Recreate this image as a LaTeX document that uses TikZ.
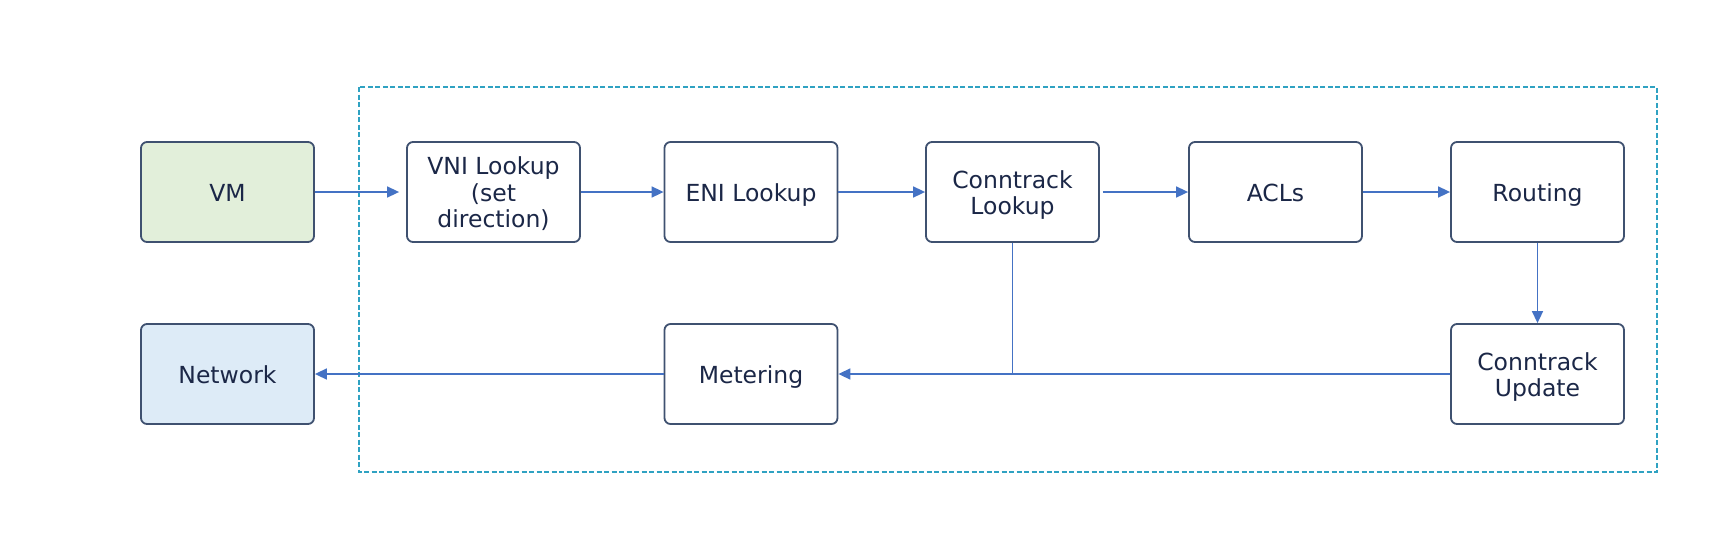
\documentclass[tikz,border=0pt]{standalone}
\usepackage{fontspec}
\setmainfont{DejaVu Sans}
\usetikzlibrary{arrows.meta}
\definecolor{boxline}{HTML}{3F5170}
\definecolor{txt}{HTML}{1B2747}
\definecolor{arr}{HTML}{4472C4}
\definecolor{dashcol}{HTML}{2FA2C2}
\definecolor{vmfill}{HTML}{E2EFDA}
\definecolor{netfill}{HTML}{DDEBF7}
\tikzset{
  stepbox/.style={draw=boxline, line width=1.8pt, rounded corners=6pt, fill=white,
    minimum width=173pt, minimum height=100pt, inner sep=0pt},
  boxtext/.style={yshift=-4.5pt, inner sep=0pt, align=center, text=txt,
    font=\fontsize{23.5pt}{26.5pt}\selectfont,
    execute at begin node=\strut, execute at end node=\strut},
  conn/.style={draw=arr, line width=1.6pt},
  arrow/.style={conn, -{Triangle[length=12pt,width=11pt]}},
  groupbox/.style={draw=dashcol, line width=1.5pt, dash pattern=on 5pt off 2.5pt},
}
\begin{document}
\begin{tikzpicture}[x=1pt,y=-1pt]
\useasboundingbox (0,0) rectangle (1719,555);
\draw[groupbox] (359,87) rectangle (1657,472);
\node[stepbox, fill=vmfill, label={[boxtext]center:VM}] (vm) at (227.5,192) {};
\node[stepbox, label={[boxtext]center:{VNI Lookup\\(set\\direction)}}] (vni) at (493.5,192) {};
\node[stepbox, label={[boxtext]center:ENI Lookup}] (eni) at (751,192) {};
\node[stepbox, label={[boxtext]center:{Conntrack\\Lookup}}] (cl) at (1012.5,192) {};
\node[stepbox, label={[boxtext]center:ACLs}] (acl) at (1275.5,192) {};
\node[stepbox, label={[boxtext]center:Routing}] (rt) at (1537.5,192) {};
\node[stepbox, fill=netfill, label={[boxtext]center:Network}] (net) at (227.5,374) {};
\node[stepbox, label={[boxtext]center:Metering}] (met) at (751,374) {};
\node[stepbox, label={[boxtext]center:{Conntrack\\Update}}] (cu) at (1537.5,374) {};
\draw[arrow, shorten >=7pt] (vm) -- (vni);
\draw[arrow] (vni) -- (eni);
\draw[arrow] (eni) -- (cl);
\draw[arrow, shorten <=3pt] (cl) -- (acl);
\draw[arrow] (acl) -- (rt);
\draw[arrow] (rt) -- (cu);
\draw[arrow] (cu) -- (met);
\draw[conn] (cl.south) -- (cl.south |- cu.west);
\draw[arrow] (met) -- (net);
\end{tikzpicture}
\end{document}
